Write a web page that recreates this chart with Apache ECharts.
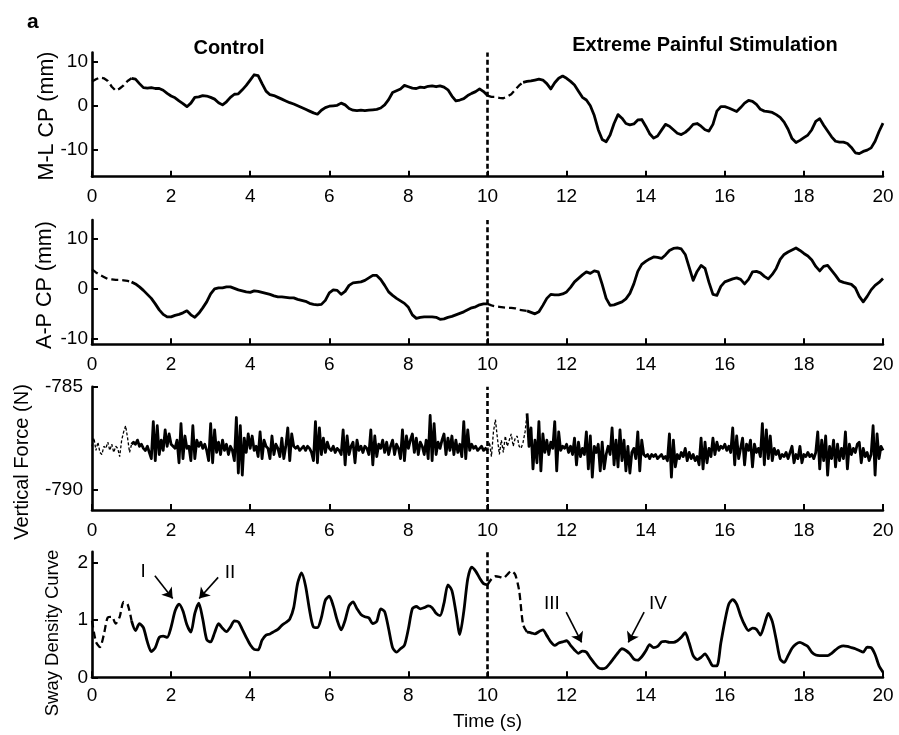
<!DOCTYPE html>
<html>
<head>
<meta charset="utf-8">
<script src="https://cdn.jsdelivr.net/npm/echarts@6/dist/echarts.min.js"></script>
<style>
  html, body { margin: 0; padding: 0; background: #fff; }
  #chart { width: 899px; height: 735px; }
</style>
</head>
<body>
<div id="chart"></div>
<script>
// Sampling steps (s)
const copStep = 0.1;
const forceStep = 0.05;

// Medio-lateral centre of pressure (mm), 0..20 s every 0.1 s
const mlCP = [
  5.5,6.0,6.4,6.2,5.6,4.3,3.4,3.9,4.6,5.6,
  6.2,6.0,5.0,4.1,4.0,4.1,3.9,3.9,3.5,2.8,
  2.2,1.8,1.1,0.5,-0.2,0.6,1.9,2.0,2.3,2.2,
  1.9,1.5,0.7,0.2,0.9,1.9,2.6,2.7,3.6,4.6,
  5.8,7.0,6.8,5.0,3.3,2.5,2.3,1.9,1.5,1.1,
  0.7,0.4,0.0,-0.4,-0.8,-1.2,-1.6,-1.9,-1.0,-0.4,
  -0.1,0.0,0.1,0.6,0.2,-0.6,-1.0,-1.1,-1.0,-1.1,
  -1.0,-0.9,-0.8,-0.5,0.2,1.4,3.0,3.4,3.8,4.6,
  4.3,4.0,3.9,4.2,4.1,4.4,4.5,4.3,4.5,4.2,
  3.6,2.2,1.1,1.3,1.6,2.3,2.8,3.2,3.8,3.2,
  2.3,2.0,2.0,1.8,1.7,2.1,2.6,3.6,4.6,5.3,
  5.5,5.6,5.8,6.0,5.8,5.0,3.8,5.2,6.2,6.7,
  6.2,5.5,4.7,3.3,1.9,1.3,0.0,-2.2,-5.4,-7.6,
  -8.1,-6.6,-4.0,-2.0,-2.8,-4.0,-4.3,-4.1,-3.2,-3.1,
  -4.6,-6.3,-7.3,-6.8,-5.5,-4.2,-4.6,-5.4,-6.2,-6.5,
  -6.0,-5.2,-4.2,-4.0,-4.6,-5.4,-5.7,-4.2,-1.2,-0.2,
  -0.2,-0.5,-0.9,-1.3,-0.4,0.6,1.2,1.0,0.3,-0.8,
  -1.2,-1.3,-1.5,-2.0,-2.6,-3.7,-5.3,-7.4,-8.3,-7.8,
  -7.2,-6.6,-5.4,-3.5,-2.9,-4.4,-5.7,-7.0,-8.0,-8.2,
  -8.2,-8.5,-9.4,-10.6,-10.8,-10.3,-10.0,-9.5,-8.0,-5.8,
  -3.9
];

// Antero-posterior centre of pressure (mm), 0..20 s every 0.1 s
const apCP = [
  3.8,3.2,2.7,2.3,1.9,1.8,1.7,1.7,1.6,1.5,
  1.3,0.9,0.3,-0.4,-1.2,-2.0,-3.1,-4.3,-5.2,-5.7,
  -5.7,-5.4,-5.2,-4.9,-4.5,-5.3,-5.8,-5.0,-3.9,-2.7,
  -1.1,-0.1,0.1,0.1,0.3,0.3,0.0,-0.3,-0.5,-0.7,
  -0.8,-0.5,-0.6,-0.8,-1.0,-1.2,-1.5,-1.7,-1.7,-1.8,
  -1.9,-1.9,-2.2,-2.4,-2.6,-3.0,-3.2,-3.3,-3.2,-2.4,
  -0.9,-0.3,-0.4,-1.2,-0.6,0.6,1.1,1.2,1.3,1.6,
  2.1,2.6,2.6,1.8,0.6,-0.7,-1.4,-2.0,-2.5,-3.0,
  -3.8,-5.3,-6.0,-5.8,-5.7,-5.7,-5.7,-5.8,-6.2,-6.1,
  -5.8,-5.6,-5.3,-5.0,-4.7,-4.3,-3.9,-3.7,-3.3,-3.1,
  -3.1,-3.4,-3.6,-3.7,-3.8,-3.9,-3.9,-4.0,-4.3,-4.4,
  -4.5,-4.8,-5.1,-4.7,-3.4,-2.0,-1.2,-1.3,-1.3,-1.1,
  -0.7,0.2,1.3,2.0,2.7,3.3,3.0,3.5,3.3,0.8,
  -2.0,-3.4,-3.3,-3.0,-2.7,-2.1,-1.0,0.9,3.4,4.8,
  5.4,5.9,6.3,6.2,6.0,6.7,7.6,8.0,8.1,7.9,
  6.8,4.2,1.6,3.4,4.6,4.0,1.2,-1.2,-1.4,0.4,
  1.3,1.6,1.9,2.1,1.8,0.9,1.8,3.3,3.4,3.1,
  2.4,1.9,2.8,4.0,5.8,6.8,7.3,7.7,8.1,7.6,
  7.0,6.5,5.7,4.4,3.5,4.4,4.6,3.6,2.6,1.5,
  1.2,1.0,0.8,0.1,-1.6,-2.7,-1.6,-0.3,0.6,1.2,
  2.0
];

// Vertical ground reaction force (N), 0..20 s every 0.05 s
const vertForce = [
  -787.9,-787.5,-788.1,-787.7,-788.2,-788.3,-787.9,-788.0,-787.7,-788.1,-787.8,-788.2,-787.9,-788.0,-788.4,-787.6,-787.2,-786.9,-787.5,-788.2,
  -787.8,-787.7,-787.8,-787.6,-787.9,-787.8,-788.0,-788.1,-787.9,-788.2,-788.5,-786.7,-788.6,-786.9,-788.3,-787.6,-788.1,-787.1,-787.9,-787.3,
  -787.8,-787.9,-788.0,-787.6,-788.7,-786.8,-788.5,-787.4,-788.0,-787.9,-788.6,-786.9,-788.5,-787.6,-787.9,-787.7,-788.0,-787.8,-788.1,-788.6,
  -786.8,-788.7,-787.1,-788.2,-787.7,-788.3,-787.6,-788.1,-787.8,-788.3,-787.9,-788.1,-788.6,-786.5,-789.2,-786.9,-789.3,-787.5,-788.2,-787.3,
  -788.0,-787.4,-788.1,-787.9,-788.4,-787.2,-788.5,-787.6,-787.9,-788.0,-788.5,-787.4,-788.3,-787.8,-788.0,-788.4,-787.5,-788.5,-787.9,-787.0,
  -788.6,-787.3,-787.9,-788.0,-787.9,-788.1,-788.0,-787.9,-788.1,-787.9,-788.0,-788.2,-788.6,-786.7,-788.7,-787.0,-788.3,-787.5,-788.2,-787.7,
  -788.0,-788.1,-787.9,-788.2,-788.0,-788.1,-788.3,-787.1,-788.8,-787.4,-788.3,-787.9,-787.7,-788.7,-787.6,-788.1,-787.9,-788.2,-787.9,-788.0,
  -788.3,-787.1,-788.8,-787.4,-788.4,-787.8,-788.0,-787.6,-788.2,-787.7,-788.3,-787.9,-787.6,-788.3,-787.8,-788.0,-788.5,-787.1,-788.6,-787.4,
  -788.0,-787.6,-787.3,-788.2,-787.5,-788.3,-787.7,-787.9,-788.3,-787.6,-788.5,-786.4,-788.6,-786.8,-788.3,-787.7,-788.0,-787.6,-787.3,-788.3,
  -787.5,-788.1,-787.4,-788.3,-787.6,-788.2,-787.8,-788.4,-786.7,-788.5,-787.1,-788.1,-787.8,-788.0,-787.9,-788.1,-788.0,-787.9,-788.1,-788.0,
  -788.1,-787.7,-788.4,-787.2,-786.6,-787.5,-788.3,-787.6,-788.2,-787.4,-787.9,-787.6,-787.3,-787.9,-787.5,-787.4,-787.9,-788.0,-787.7,-787.2,
  -786.3,-787.9,-787.0,-789.0,-787.6,-788.7,-786.7,-789.1,-787.3,-788.2,-787.6,-788.3,-787.7,-788.0,-786.7,-789.1,-787.2,-788.1,-787.9,-788.0,
  -787.8,-788.2,-787.9,-788.3,-787.5,-788.8,-787.7,-788.4,-788.0,-788.3,-787.2,-789.0,-787.4,-789.4,-787.9,-788.2,-787.8,-789.1,-787.7,-789.0,
  -788.3,-787.9,-788.3,-787.0,-788.8,-787.6,-788.9,-787.1,-788.6,-787.6,-789.1,-787.9,-789.2,-788.2,-788.0,-788.5,-787.2,-789.1,-787.6,-788.3,
  -788.4,-788.3,-788.5,-788.3,-788.4,-788.3,-788.5,-788.4,-788.3,-788.5,-788.4,-788.6,-787.3,-789.4,-787.6,-788.9,-788.3,-788.5,-788.2,-788.4,
  -788.0,-788.6,-788.2,-788.5,-788.3,-788.6,-788.4,-788.8,-787.5,-789.0,-787.7,-788.7,-788.0,-788.4,-787.5,-788.3,-787.7,-788.1,-787.9,-788.0,
  -787.8,-788.1,-787.9,-788.2,-787.0,-788.8,-787.4,-788.5,-788.0,-787.5,-788.8,-787.8,-788.1,-787.6,-788.9,-787.8,-788.2,-788.0,-788.4,-786.8,
  -788.8,-787.1,-788.5,-787.4,-788.6,-788.0,-788.3,-788.1,-788.5,-788.3,-788.4,-788.2,-788.5,-788.2,-787.9,-788.7,-788.3,-788.5,-787.9,-788.7,
  -788.3,-788.4,-788.2,-788.4,-788.3,-788.5,-788.2,-787.2,-789.0,-787.6,-788.6,-787.4,-789.3,-787.9,-788.5,-787.6,-788.9,-787.8,-788.6,-788.0,
  -788.5,-787.2,-789.0,-787.8,-788.3,-788.0,-788.2,-787.8,-787.7,-788.7,-788.0,-788.4,-788.2,-788.6,-788.3,-786.9,-789.3,-787.3,-788.5,-787.9,
  -788.1
];

// Sway density curve, 0..20 s every 0.1 s
const swayDensity = [
  0.99,0.62,0.53,0.75,1.05,1.06,0.94,1.06,1.32,1.28,
  0.99,0.82,0.94,0.87,0.62,0.45,0.52,0.70,0.72,0.70,
  0.88,1.16,1.28,1.16,0.92,0.79,1.12,1.30,1.02,0.66,
  0.62,0.78,0.94,0.86,0.80,0.88,0.99,0.97,0.84,0.70,
  0.57,0.49,0.48,0.65,0.74,0.76,0.80,0.84,0.91,0.96,
  1.02,1.22,1.65,1.83,1.60,1.18,0.88,0.87,1.05,1.35,
  1.42,1.25,1.00,0.83,1.00,1.25,1.32,1.20,1.10,1.06,
  1.04,0.94,0.98,1.20,1.15,0.85,0.52,0.44,0.50,0.56,
  0.85,1.20,1.24,1.20,1.22,1.25,1.22,1.12,1.08,1.30,
  1.62,1.52,1.15,0.75,1.15,1.72,1.93,1.86,1.74,1.64,
  1.62,1.72,1.77,1.76,1.74,1.80,1.86,1.80,1.52,0.92,
  0.79,0.78,0.76,0.80,0.83,0.73,0.62,0.56,0.60,0.62,
  0.64,0.56,0.48,0.42,0.46,0.44,0.34,0.25,0.17,0.15,
  0.17,0.25,0.34,0.43,0.50,0.47,0.41,0.32,0.30,0.36,
  0.46,0.57,0.52,0.54,0.62,0.63,0.61,0.61,0.64,0.70,
  0.78,0.60,0.38,0.31,0.35,0.41,0.31,0.20,0.20,0.60,
  0.98,1.28,1.36,1.28,1.08,0.92,0.82,0.86,0.84,0.74,
  0.92,1.12,0.98,0.66,0.32,0.26,0.38,0.51,0.58,0.61,
  0.58,0.54,0.44,0.39,0.38,0.38,0.38,0.42,0.48,0.53,
  0.55,0.54,0.52,0.50,0.47,0.44,0.53,0.52,0.40,0.20,
  0.09
];

// Time spans recorded before the steady state (drawn dashed)
const mlDashed = [[0, 1.0], [10, 10.9]];
const apDashed = [[0, 1.0], [10, 11.0]];
const forceDashed = [[0, 1.0], [10, 11.0]];
const swayDashed = [[0, 1.0], [10, 11.0]];

// Axis ticks
const timeTicks = [0, 2, 4, 6, 8, 10, 12, 14, 16, 18, 20];
const mlTicks = [-10, 0, 10];
const apTicks = [-10, 0, 10];
const forceTicks = [-790, -785];
const swayTicks = [0, 1, 2];

// Stimulation onset (s)
const onset = 10;

// Annotated sway-density peaks: label, label position, arrow tail, arrow head (data units)
const peakNames = ['I', 'II', 'III', 'IV'];
const peakLabelAt = [[1.29, 1.85], [3.49, 1.83], [11.63, 1.29], [14.31, 1.29]];
const peakArrowFrom = [[1.59, 1.78], [3.19, 1.75], [11.99, 1.14], [13.96, 1.14]];
const peakArrowTo = [[2.04, 1.38], [2.71, 1.38], [12.38, 0.61], [13.56, 0.61]];

const FONT = "'Liberation Sans', Arial, Helvetica, sans-serif";
const BLACK = '#000';

function splitTrace(values, step, spans) {
  const solid = [], dashed = [];
  values.forEach((v, i) => {
    const t = Math.round(i * step * 1000) / 1000;
    const onSpan = spans.some(([a, b]) => t >= a - 1e-9 && t <= b + 1e-9);
    const inside = spans.some(([a, b]) => t > a + 1e-9 && t < b - 1e-9);
    solid.push([t, inside ? null : v]);
    dashed.push([t, onSpan ? v : null]);
  });
  return { solid, dashed };
}

const grids = [
  { left: 92, right: 16, top: 52.6, height: 124.1 },
  { left: 92, right: 16, top: 220, height: 124.3 },
  { left: 92, right: 16, top: 386.7, height: 123.3 },
  { left: 92, right: 16, top: 551.7, height: 125.6 }
];

function xAxisFor(i, labelMargin, extra) {
  return Object.assign({
    type: 'value', gridIndex: i, min: 0, max: 20, interval: 2,
    axisLine: { onZero: false, lineStyle: { color: BLACK, width: 2.6 } },
    axisTick: { inside: true, length: 6, lineStyle: { color: BLACK, width: 2 } },
    axisLabel: { color: BLACK, fontSize: 19, fontFamily: FONT, margin: labelMargin,
                 customValues: timeTicks, showMinLabel: true, showMaxLabel: true },
    splitLine: { show: false }
  }, extra || {});
}

function yAxisFor(i, min, max, ticks, labelMargin) {
  return {
    type: 'value', gridIndex: i, min: min, max: max,
    axisLine: { show: true, onZero: false, lineStyle: { color: BLACK, width: 2.6 } },
    axisTick: { show: true, inside: true, length: 6, customValues: ticks,
                lineStyle: { color: BLACK, width: 2 } },
    axisLabel: { color: BLACK, fontSize: 19, fontFamily: FONT, margin: labelMargin,
                 customValues: ticks },
    splitLine: { show: false }
  };
}

const onsetLine = {
  silent: true, symbol: 'none', animation: false,
  label: { show: false },
  lineStyle: { color: BLACK, width: 2.6, type: [5, 3] },
  data: [{ xAxis: onset }]
};

function traceSeries(i, values, step, spans, opts) {
  const parts = splitTrace(values, step, spans);
  const solid = {
    type: 'line', xAxisIndex: i, yAxisIndex: i, data: parts.solid,
    showSymbol: false, symbol: 'none', connectNulls: false, z: 3,
    smooth: opts.smooth || false,
    lineStyle: { color: BLACK, width: opts.width, join: 'round' },
    markLine: onsetLine
  };
  const dashed = {
    type: 'line', xAxisIndex: i, yAxisIndex: i, data: parts.dashed,
    showSymbol: false, symbol: 'none', connectNulls: false, z: 3,
    smooth: opts.smooth || false,
    lineStyle: { color: BLACK, width: opts.dashWidth, type: opts.dash }
  };
  return [solid, dashed];
}

const series = [].concat(
  traceSeries(0, mlCP, copStep, mlDashed, { width: 2.8, dashWidth: 2.3, dash: [7, 4] }),
  traceSeries(1, apCP, copStep, apDashed, { width: 2.8, dashWidth: 2.3, dash: [7, 4] }),
  traceSeries(2, vertForce, forceStep, forceDashed, { width: 2.8, dashWidth: 1.3, dash: [3, 2] }),
  traceSeries(3, swayDensity, copStep, swayDashed, { width: 2.8, dashWidth: 2.3, dash: [7, 4], smooth: 0.25 })
);

// Peak annotations on the sway-density panel
series.push({
  type: 'line', xAxisIndex: 3, yAxisIndex: 3, data: [], z: 5,
  markLine: {
    silent: true, animation: false,
    symbol: ['none', 'arrow'], symbolSize: 10,
    label: { show: false },
    itemStyle: { color: BLACK },
    lineStyle: { color: BLACK, width: 1.6, type: 'solid' },
    data: peakNames.map((n, k) => [
      { coord: peakArrowFrom[k] },
      { coord: peakArrowTo[k] }
    ])
  },
  markPoint: {
    silent: true, animation: false,
    symbol: 'rect', symbolSize: 1,
    itemStyle: { color: 'rgba(0,0,0,0)' },
    label: { show: true, position: 'inside', color: BLACK, fontSize: 19,
             fontFamily: FONT, formatter: p => p.name },
    data: peakNames.map((n, k) => ({ name: n, coord: peakLabelAt[k] }))
  }
});

const sideNames = [
  { text: 'M-L CP (mm)', x: 47, y: 116, size: 21.5 },
  { text: 'A-P CP (mm)', x: 45, y: 285, size: 21.5 },
  { text: 'Vertical Force (N)', x: 22, y: 462, size: 20 },
  { text: 'Sway Density Curve', x: 53, y: 633, size: 18.5 }
];

const graphic = [
  { type: 'text', x: 27, y: 22, style: { text: 'a', font: 'bold 21px ' + FONT, fill: BLACK,
    textAlign: 'left', textVerticalAlign: 'middle' } },
  { type: 'text', x: 229, y: 48, style: { text: 'Control', font: 'bold 20px ' + FONT, fill: BLACK,
    textAlign: 'center', textVerticalAlign: 'middle' } },
  { type: 'text', x: 705, y: 45, style: { text: 'Extreme Painful Stimulation', font: 'bold 20px ' + FONT,
    fill: BLACK, textAlign: 'center', textVerticalAlign: 'middle' } }
].concat(sideNames.map(s => ({
  type: 'text', x: s.x, y: s.y, rotation: Math.PI / 2,
  style: { text: s.text, font: s.size + 'px ' + FONT, fill: BLACK,
           textAlign: 'center', textVerticalAlign: 'middle' }
})));

const chart = echarts.init(document.getElementById('chart'), null, { renderer: 'canvas' });
chart.setOption({
  animation: false,
  backgroundColor: '#fff',
  grid: grids,
  xAxis: [
    xAxisFor(0, 11),
    xAxisFor(1, 11),
    xAxisFor(2, 11),
    xAxisFor(3, 9, { name: 'Time (s)', nameLocation: 'middle', nameGap: 35,
      nameTextStyle: { color: BLACK, fontSize: 19, fontFamily: FONT } })
  ],
  yAxis: [
    yAxisFor(0, -16, 12, mlTicks, 4),
    yAxisFor(1, -11.2, 13.7, apTicks, 4),
    yAxisFor(2, -791, -785, forceTicks, 9),
    yAxisFor(3, 0, 2.2, swayTicks, 4)
  ],
  series: series,
  graphic: graphic
});
</script>
</body>
</html>
